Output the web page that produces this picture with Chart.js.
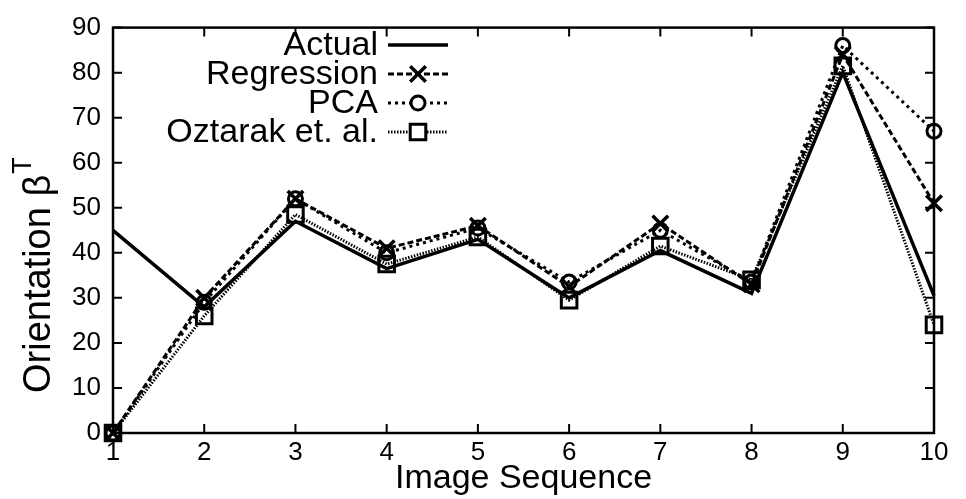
<!DOCTYPE html>
<html>
<head>
<meta charset="utf-8">
<script src="https://cdn.jsdelivr.net/npm/chart.js@4.4.1/dist/chart.umd.min.js"></script>
<style>
  html, body { margin: 0; padding: 0; background: #fff; }
  #wrap { width: 966px; height: 499px; }
</style>
</head>
<body>
<div id="wrap"><canvas id="orientChart" width="966" height="499"></canvas></div>
<script>
// Data
const imageSeq = ['1', '2', '3', '4', '5', '6', '7', '8', '9', '10'];
const actual = [45, 28, 47, 36.5, 43, 30, 40.5, 31, 80, 30.5];
const regression = [0, 30, 52, 41, 46, 32.5, 46.5, 33, 84, 51];
const pca = [0, 29, 52, 40, 45.5, 33.5, 45, 33.5, 86, 67];
const oztarak = [0, 26, 48.5, 37.5, 43.5, 29.5, 41.5, 34, 81.5, 24];
const seriesNames = ['Actual', 'Regression', 'PCA', 'Oztarak et. al.'];

const FONT = "'Liberation Sans', Arial, Helvetica, sans-serif";
const hollow = 'rgba(0,0,0,0)';

// gnuplot-style frame with inward ticks on all four sides
const framePlugin = {
  id: 'frame',
  afterDraw(chart) {
    const { ctx, chartArea: a, scales } = chart;
    const len = 9;
    ctx.save();
    ctx.strokeStyle = '#000';
    ctx.lineWidth = 2.5;
    ctx.strokeRect(a.left, a.top, a.right - a.left, a.bottom - a.top);
    ctx.lineWidth = 2;
    ctx.beginPath();
    scales.y.ticks.forEach(t => {
      const y = scales.y.getPixelForValue(t.value);
      ctx.moveTo(a.left, y); ctx.lineTo(a.left + len, y);
      ctx.moveTo(a.right, y); ctx.lineTo(a.right - len, y);
    });
    scales.x.ticks.forEach((t, i) => {
      const x = scales.x.getPixelForTick(i);
      ctx.moveTo(x, a.bottom); ctx.lineTo(x, a.bottom - len);
      ctx.moveTo(x, a.top); ctx.lineTo(x, a.top + len);
    });
    ctx.stroke();
    ctx.restore();
  }
};

// y title with a superscript T
const yTitlePlugin = {
  id: 'yTitle',
  afterDraw(chart) {
    const ctx = chart.ctx;
    ctx.save();
    ctx.translate(40, 393);
    ctx.rotate(-Math.PI / 2);
    ctx.fillStyle = '#000';
    ctx.textBaseline = 'middle';
    ctx.textAlign = 'left';
    ctx.font = '38px ' + FONT;
    const main = 'Orientation \u03B2';
    ctx.fillText(main, 0, 0);
    const w = ctx.measureText(main).width;
    ctx.font = '27px ' + FONT;
    ctx.fillText('T', w + 1, -16);
    ctx.restore();
  }
};

// key in the top-left: right-aligned text, then a line sample with its marker
const keyPlugin = {
  id: 'key',
  afterDraw(chart) {
    const ctx = chart.ctx;
    const textRight = 378, x0 = 388, x1 = 448, top = 45, step = 29;
    ctx.save();
    chart.data.datasets.forEach((ds, i) => {
      const y = top + i * step;
      ctx.fillStyle = '#000';
      ctx.font = '34px ' + FONT;
      ctx.textAlign = 'right';
      ctx.textBaseline = 'middle';
      ctx.fillText(ds.label, textRight, y + 1);
      ctx.strokeStyle = '#000';
      ctx.lineWidth = ds.borderWidth;
      ctx.setLineDash(ds.borderDash || []);
      ctx.beginPath();
      ctx.moveTo(x0, y); ctx.lineTo(x1, y);
      ctx.stroke();
      ctx.setLineDash([]);
      if (ds.pointRadius > 0) {
        ctx.fillStyle = '#fff';
        ctx.lineWidth = ds.pointBorderWidth;
        Chart.helpers.drawPoint(ctx, {
          pointStyle: ds.pointStyle, rotation: 0, radius: ds.pointRadius, borderWidth: ds.pointBorderWidth
        }, (x0 + x1) / 2, y);
      }
    });
    ctx.restore();
  }
};

const ctx = document.getElementById('orientChart').getContext('2d');
const chart = new Chart(ctx, {
  type: 'line',
  data: {
    labels: imageSeq,
    datasets: [
      {
        label: seriesNames[0], data: actual, clip: false,
        borderColor: '#000', borderWidth: 3.5, pointRadius: 0, tension: 0
      },
      {
        label: seriesNames[1], data: regression, clip: false,
        borderColor: '#000', borderWidth: 3, borderDash: [6, 3],
        pointStyle: 'crossRot', pointRadius: 11, pointBorderWidth: 3.5,
        pointBorderColor: '#000', pointBackgroundColor: hollow
      },
      {
        label: seriesNames[2], data: pca, clip: false,
        borderColor: '#000', borderWidth: 3, borderDash: [3, 4],
        pointStyle: 'circle', pointRadius: 7, pointBorderWidth: 3,
        pointBorderColor: '#000', pointBackgroundColor: hollow
      },
      {
        label: seriesNames[3], data: oztarak, clip: false,
        borderColor: '#000', borderWidth: 3, borderDash: [1.5, 1.5],
        pointStyle: 'rect', pointRadius: 11, pointBorderWidth: 3,
        pointBorderColor: '#000', pointBackgroundColor: hollow
      }
    ]
  },
  options: {
    responsive: false,
    animation: false,
    layout: { padding: { left: 0, right: 32, top: 19, bottom: 0 } },
    plugins: {
      legend: { display: false },
      tooltip: { enabled: false }
    },
    scales: {
      x: {
        offset: false,
        grid: { display: false, drawTicks: false },
        border: { display: false },
        ticks: { color: '#000', padding: 4, font: { family: FONT, size: 26 }, maxRotation: 0, autoSkip: false },
        title: { display: true, text: 'Image Sequence', color: '#000', font: { family: FONT, size: 34 }, padding: 0 },
        afterFit: s => { s.height = 66; }
      },
      y: {
        min: 0, max: 90,
        grid: { display: false, drawTicks: false },
        border: { display: false },
        ticks: { stepSize: 10, color: '#000', padding: 12, font: { family: FONT, size: 26 } },
        afterFit: s => { s.width = 113; }
      }
    }
  },
  plugins: [framePlugin, yTitlePlugin, keyPlugin]
});
</script>
</body>
</html>
